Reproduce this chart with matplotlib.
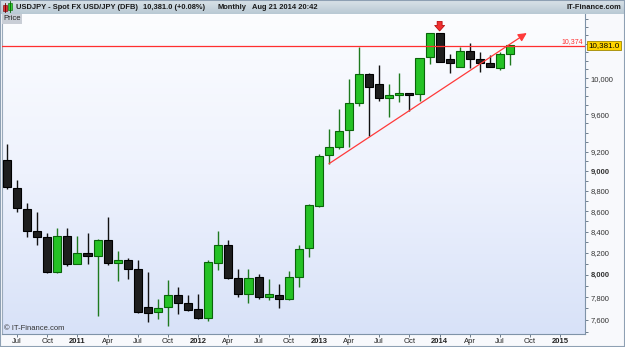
import numpy as np
import pandas as pd
import matplotlib
matplotlib.use('Agg')
import matplotlib.pyplot as plt
import matplotlib.transforms as mtransforms
from matplotlib.patches import Rectangle
from matplotlib.colors import LinearSegmentedColormap
from matplotlib.ticker import FixedLocator, NullFormatter

plt.rcParams['font.family'] = ['Liberation Sans', 'DejaVu Sans']

# monthly candles, Jun 2010 .. Aug 2014
months = pd.period_range('2010-06', '2014-08', freq='M')
opens = [9109, 8833, 8625, 8411, 8347, 8027, 8361, 8103, 8200, 8175,
         8326, 8110, 8135, 8052, 7714, 7668, 7712, 7820, 7747, 7694,
         7621, 8112, 8276, 7970, 7826, 7977, 7802, 7820, 7785, 7976,
         8244, 8647, 9161, 9248, 9425, 9725, 10043, 9929, 9775, 9814,
         9831, 9827, 10239, 10522, 10215, 10123, 10312, 10215, 10177, 10118,
         10274]
highs = [9284, 8904, 8680, 8592, 8385, 8437, 8437, 8361, 8385, 8330,
         8546, 8215, 8152, 8135, 8021, 7782, 7952, 7891, 7820, 7826,
         8135, 8411, 8323, 8052, 8050, 8006, 7961, 7916, 8036, 8278,
         8671, 9171, 9436, 9661, 9988, 10363, 10063, 10150, 9930, 10058,
         9837, 10234, 10529, 10529, 10274, 10356, 10403, 10297, 10266, 10297,
         10389]
lows = [8816, 8588, 8347, 8278, 8020, 8020, 8082, 8100, 8098, 7633,
        8091, 7946, 7960, 7664, 7586, 7607, 7549, 7656, 7680, 7607,
        7592, 8045, 7965, 7805, 7752, 7782, 7776, 7703, 7773, 7891,
        8159, 8637, 9075, 9231, 9248, 9686, 9361, 9749, 9566, 9734,
        9634, 9745, 10157, 10187, 10061, 10123, 10118, 10072, 10123, 10092,
        10150]
closes = [8836, 8634, 8404, 8347, 8027, 8357, 8103, 8200, 8175, 8326,
          8110, 8135, 8053, 7670, 7664, 7703, 7820, 7752, 7685, 7621,
          8119, 8276, 7970, 7829, 7970, 7802, 7826, 7785, 7979, 8238,
          8661, 9158, 9248, 9414, 9727, 10044, 9902, 9775, 9806, 9831,
          9814, 10234, 10522, 10187, 10169, 10312, 10215, 10169, 10123, 10274,
          10381]

last_close = 10381.0
resistance = 10374
trend_start = (32, 9075)
trend_end = (51.66, 10526)
signal_idx = 43
price_ticks = [7600, 7800, 8000, 8200, 8400, 8600, 8800, 9000, 9200, 9600, 10000]
bold_ticks = [8000, 9000]

W, H = 625, 347
fig = plt.figure(figsize=(W / 100, H / 100), dpi=100)
fig.patch.set_facecolor('#f8f9fc')


def box(x0, y0, x1, y1):
    return [x0 / W, 1 - y1 / H, (x1 - x0) / W, (y1 - y0) / H]


# plot background gradient
bg = fig.add_axes(box(2, 14, 585, 334))
cmap = LinearSegmentedColormap.from_list('bgc', ['#fcfdff', '#eef2fd', '#d8e2f8'])
bg.imshow(np.linspace(0, 1, 200).reshape(-1, 1), cmap=cmap, aspect='auto',
          extent=[0, 1, 0, 1], origin='upper')
bg.axis('off')

ax = fig.add_axes(box(2, 14, 585, 334))
ax.set_facecolor('none')
x = np.arange(len(months))
o = np.array(opens, float)
c = np.array(closes, float)
up = c >= o
wick_col = np.where(up, '#1e7a1e', '#111111')
face_col = np.where(up, '#25c225', '#1e1e1e')
edge_col = np.where(up, '#0a650a', '#000000')

ax.vlines(x, lows, highs, colors=wick_col, lw=1.0, zorder=2)
ax.bar(x, np.abs(c - o), bottom=np.minimum(o, c), width=0.8,
       color=face_col, edgecolor=edge_col, linewidth=0.8, zorder=3)

ax.set_yscale('log')
ax.set_ylim(7480, 10756)
ax.set_xlim(-0.5, 57.45)

# resistance line and last price
ax.axhline(resistance, color='#ff2f2f', lw=0.9, zorder=4)
bl = mtransforms.blended_transform_factory(ax.transAxes, ax.transData)
ax.text(0.996, resistance * 1.001, f'{resistance:,}', transform=bl, ha='right',
        va='bottom', color='#ff2f2f', fontsize=5)
ax.text(1.006, last_close, f'{last_close:,.1f}', transform=bl, ha='left',
        va='center', fontsize=5.8, clip_on=False,
        bbox=dict(boxstyle='square,pad=0.15', fc='#ffd400', ec='#a08800', lw=0.6))

# trend line
ax.annotate('', xy=trend_end, xytext=trend_start,
            arrowprops=dict(arrowstyle='-|>,head_length=0.5,head_width=0.25',
                            color='#ff3a3a', lw=0.9, shrinkA=0, shrinkB=0,
                            mutation_scale=10), zorder=5)
# signal arrow above the Jan 2014 candle
ax.annotate('', xy=(signal_idx, highs[signal_idx] * 1.002),
            xytext=(signal_idx, highs[signal_idx] * 1.013),
            arrowprops=dict(arrowstyle='simple,head_length=0.5,head_width=0.9,tail_width=0.45',
                            fc='#ee3030', ec='#b00000', lw=0.5, shrinkA=0, shrinkB=0,
                            mutation_scale=8), zorder=5)

# y axis on the right
ax.yaxis.tick_right()
ax.yaxis.set_major_locator(FixedLocator(price_ticks))
ax.yaxis.set_minor_locator(FixedLocator(list(range(7500, 10800, 100))))
ax.yaxis.set_minor_formatter(NullFormatter())
ax.set_yticklabels([f'{v:,}' for v in price_ticks])
for lab, v in zip(ax.get_yticklabels(), price_ticks):
    if v in bold_ticks:
        lab.set_fontweight('bold')
        lab.set_color('#000000')
ax.tick_params(axis='y', which='both', labelsize=5.5, length=2.5, width=0.6,
               color='#5a6a7a', labelcolor='#333333', pad=1.5)
ax.tick_params(axis='y', which='minor', length=2)

# x axis, quarterly labels
ext = pd.period_range(months[0], '2015-01', freq='M')
tick_pos = [i for i, p in enumerate(ext) if p.month in (1, 4, 7, 10)]
tick_lab = [str(ext[i].year) if ext[i].month == 1 else ext[i].strftime('%b') for i in tick_pos]
ax.set_xticks(tick_pos)
ax.set_xticklabels(tick_lab)
for lab, t in zip(ax.get_xticklabels(), tick_lab):
    if t.isdigit():
        lab.set_fontweight('bold')
ax.tick_params(axis='x', labelsize=5.5, length=2, width=0.6, color='#5a6a7a',
               labelcolor='#222222', pad=1)

ax.spines['top'].set_visible(False)
ax.spines['left'].set_color('#9aaabb')
ax.spines['right'].set_color('#7f93a8')
ax.spines['bottom'].set_color('#7f93a8')
for s in ax.spines.values():
    s.set_linewidth(0.8)

ax.text(0.003, 0.012, '\u00a9 IT-Finance.com', transform=ax.transAxes,
        fontsize=5.5, color='#333333')

# header bar
hd = fig.add_axes(box(0, 0, W, 14))
hcmap = LinearSegmentedColormap.from_list('hd', ['#d9e2e8', '#b9c9d4'])
hd.imshow(np.linspace(0, 1, 20).reshape(-1, 1), cmap=hcmap, aspect='auto',
          extent=[0, W, 14, 0])
hd.set_xlim(0, W)
hd.set_ylim(14, 0)
hd.axis('off')
hd.plot([5, 5], [3, 12], color='#600', lw=0.6)
hd.add_patch(Rectangle((3, 5), 4, 6, fc='#e03030', ec='#700000', lw=0.4))
hd.plot([10, 10], [1, 12], color='#060', lw=0.6)
hd.add_patch(Rectangle((8, 3), 4, 7, fc='#30d030', ec='#006000', lw=0.4))
hkw = dict(fontsize=5.4, fontweight='bold', color='#1a1a1a', va='center')
hd.text(16, 7.2, 'USDJPY - Spot FX USD/JPY (DFB)', **hkw)
hd.text(143, 7.2, '10,381.0 (+0.08%)', **hkw)
hd.text(218, 7.2, 'Monthly', **hkw)
hd.text(252, 7.2, 'Aug 21 2014 20:42', **hkw)
hd.text(621, 7.2, 'IT-Finance.com', ha='right', **hkw)

# "Price" label
fig.text(3 / W, 1 - 19 / H, 'Price', fontsize=5.5, color='#222222', va='center',
         bbox=dict(boxstyle='square,pad=0.15', fc='#c9ced6', ec='none'))

fig.add_artist(Rectangle((0, 0), 1, 1, transform=fig.transFigure, fill=False,
                         ec='#8ea0b3', lw=1.5))

fig.savefig('out.png', dpi=100)
